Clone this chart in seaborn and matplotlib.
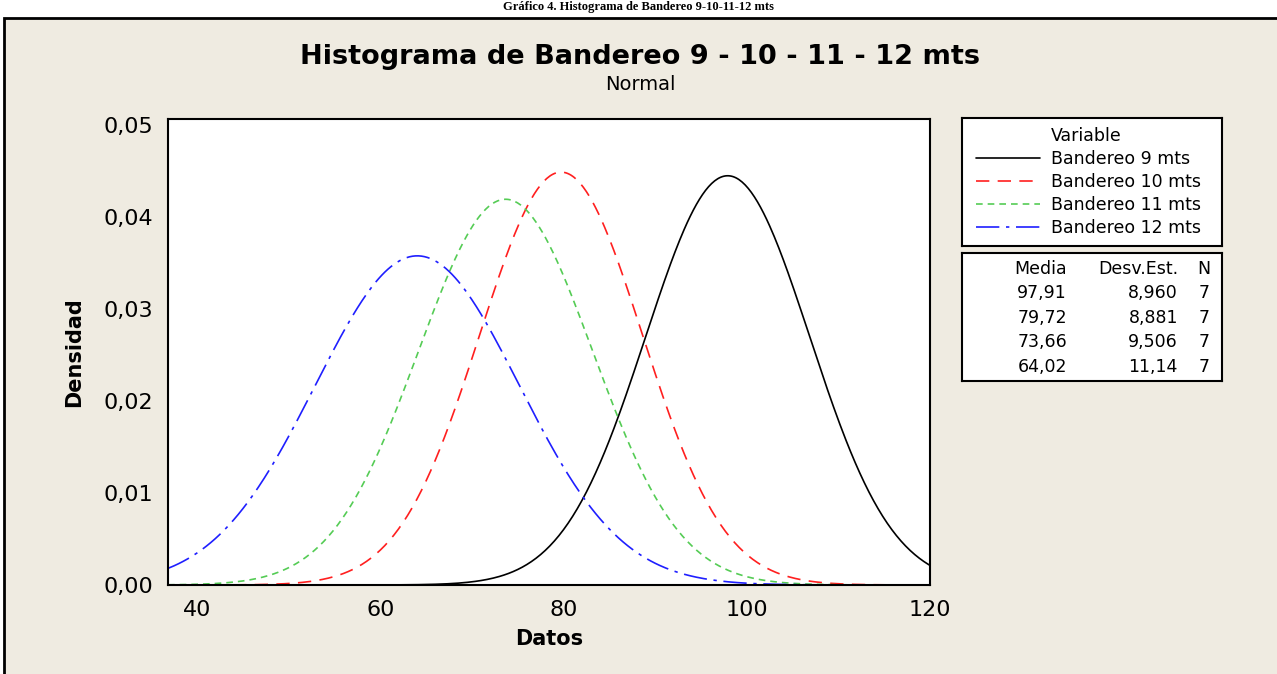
import numpy as np
import pandas as pd
import matplotlib.pyplot as plt
import seaborn as sns
from matplotlib.patches import Rectangle
from matplotlib.lines import Line2D

series = ['Bandereo 9 mts', 'Bandereo 10 mts', 'Bandereo 11 mts', 'Bandereo 12 mts']
media = [97.91, 79.72, 73.66, 64.02]
desv = [8.960, 8.881, 9.506, 11.14]
n_obs = [7, 7, 7, 7]
media_txt = ['97,91', '79,72', '73,66', '64,02']
desv_txt = ['8,960', '8,881', '9,506', '11,14']

colors = ['black', '#FF1F1F', '#55CC55', '#1F1FFF']
styles = ['-', (0, (8, 5)), (0, (4, 3)), (0, (14, 4, 2, 4))]

xticks = [40, 60, 80, 100, 120]
yticks = [0.00, 0.01, 0.02, 0.03, 0.04, 0.05]

sns.set_style('white')
plt.rcParams['font.family'] = ['DejaVu Sans']
plt.rcParams['text.color'] = 'black'
plt.rcParams['axes.labelcolor'] = 'black'
plt.rcParams['xtick.color'] = 'black'
plt.rcParams['ytick.color'] = 'black'

W, H = 1277, 674
fig = plt.figure(figsize=(W / 100, H / 100), dpi=100)
fig.patch.set_facecolor('white')

# beige panel with black frame
fig.patches.append(Rectangle((4 / W, -0.05), 1.2, 1 - 18 / H + 0.05, transform=fig.transFigure,
                             facecolor='#EFEBE1', edgecolor='black', linewidth=2, zorder=-5))

fig.text(0.5, 1 - 1 / H, 'Gráfico 4. Histograma de Bandereo 9-10-11-12 mts', ha='center', va='top',
         fontsize=9, fontweight='bold', family='Liberation Serif')

fig.text(640 / W, 1 - 57 / H, 'Histograma de Bandereo 9 - 10 - 11 - 12 mts', ha='center', va='center',
         fontsize=19.5, fontweight='bold')
fig.text(640 / W, 1 - 84 / H, 'Normal', ha='center', va='center', fontsize=14)

ax = fig.add_axes([168 / W, 1 - 585 / H, (930 - 168) / W, (585 - 119) / H])
ax.set_facecolor('white')

xmin, xmax = 36.8, 120
grid = np.linspace(xmin, xmax, 500)
rows = []
for name, m, s in zip(series, media, desv):
    dens = np.exp(-0.5 * ((grid - m) / s) ** 2) / (s * np.sqrt(2 * np.pi))
    rows.append(pd.DataFrame({'Datos': grid, 'Densidad': dens, 'Variable': name}))
df = pd.concat(rows, ignore_index=True)

handles = []
for name, c, ls in zip(series, colors, styles):
    sub = df[df['Variable'] == name]
    sns.lineplot(data=sub, x='Datos', y='Densidad', color=c, linestyle=ls, linewidth=1.2, ax=ax)
    handles.append(Line2D([], [], color=c, linestyle=ls, linewidth=1.2))

ax.set_xlim(xmin, xmax)
ax.set_ylim(0, 0.0507)
ax.set_xticks(xticks)
ax.set_xticklabels([str(t) for t in xticks])
ax.set_yticks(yticks)
ax.set_yticklabels([f'{t:.2f}'.replace('.', ',') for t in yticks])
ax.tick_params(axis='both', direction='out', length=7, width=1.3, labelsize=16, color='black')
ax.tick_params(axis='x', pad=4)
ax.set_xlabel('Datos', fontsize=15, fontweight='bold', labelpad=6)
ax.set_ylabel('Densidad', fontsize=15, fontweight='bold', labelpad=14)
for sp in ax.spines.values():
    sp.set_color('black')
    sp.set_linewidth(1.5)

# legend box
lax = fig.add_axes([962 / W, 1 - 246 / H, 260 / W, 128 / H])
lax.set_xticks([])
lax.set_yticks([])
lax.set_facecolor('white')
for sp in lax.spines.values():
    sp.set_color('black')
    sp.set_linewidth(1.5)
title_handle = Line2D([], [], color='none')
lax.legend([title_handle] + handles, ['Variable'] + series, loc='center left', bbox_to_anchor=(0.0, 0.5),
           frameon=False, fontsize=12.5, handlelength=3.7, handletextpad=0.6, labelspacing=0.3,
           borderaxespad=0.4)

# stats box
sax = fig.add_axes([962 / W, 1 - 381 / H, 260 / W, 128 / H])
sax.set_xticks([])
sax.set_yticks([])
sax.set_facecolor('white')
sax.set_xlim(962, 1222)
sax.set_ylim(381, 253)
for sp in sax.spines.values():
    sp.set_color('black')
    sp.set_linewidth(1.5)
fs = 12.5
sax.text(1067, 269, 'Media', ha='right', va='center', fontsize=fs)
sax.text(1178, 269, 'Desv.Est.', ha='right', va='center', fontsize=fs)
sax.text(1204, 269, 'N', ha='center', va='center', fontsize=fs)
row_y = [293, 318, 342, 367]
for y, mt, dt, n in zip(row_y, media_txt, desv_txt, n_obs):
    sax.text(1067, y, mt, ha='right', va='center', fontsize=fs)
    sax.text(1178, y, dt, ha='right', va='center', fontsize=fs)
    sax.text(1204, y, str(n), ha='center', va='center', fontsize=fs)

fig.savefig('out.png', dpi=100, facecolor=fig.get_facecolor())
